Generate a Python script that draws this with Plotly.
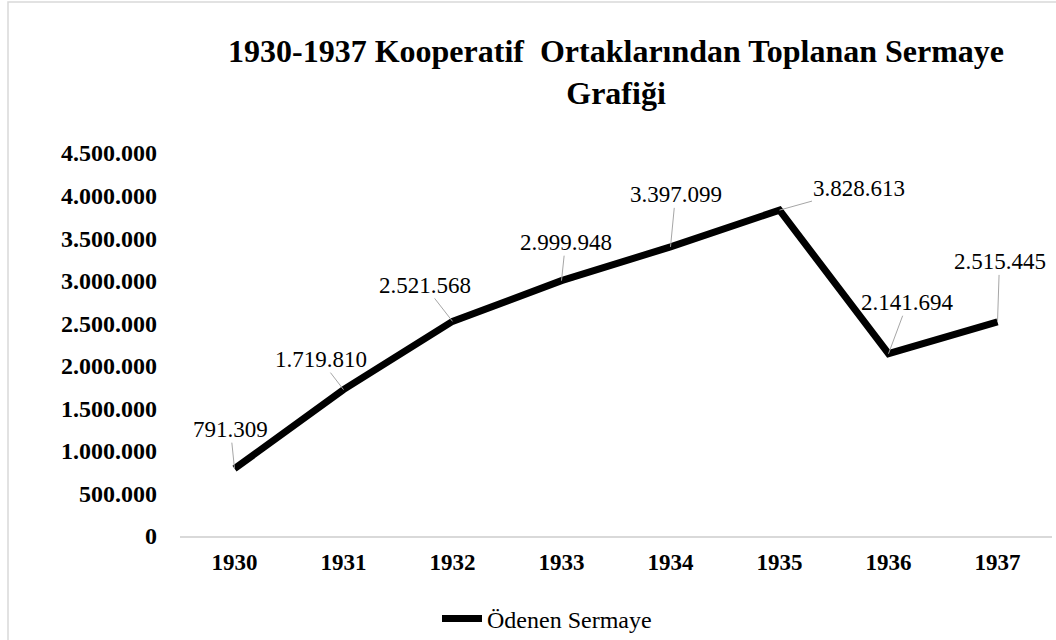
import plotly.graph_objects as go

years = ["1930", "1931", "1932", "1933", "1934", "1935", "1936", "1937"]
sermaye = [791309, 1719810, 2521568, 2999948, 3397099, 3828613, 2141694, 2515445]
y_ticks = [0, 500000, 1000000, 1500000, 2000000, 2500000, 3000000, 3500000, 4000000, 4500000]
series_name = "Ödenen Sermaye"
title_text = "1930-1937 Kooperatif  Ortaklarından Toplanan Sermaye<br>Grafiği"

# label offsets in pixels (text centre relative to point)
label_dx = [-4, -23, -28, 4, 5, 79, 19, 2]
label_dy = [-39, -30, -36, -38, -52, -22, -51, -60]

def fmt(v):
    return f"{v:,}".replace(",", ".")

FONT = "Liberation Serif"
L, R, T, B = 180, 4, 153, 104
PH = 640 - T - B
PW = 1056 - L - R

def py(px):  # pixel y -> paper
    return (640 - B - px) / PH

def pxx(px):  # pixel x -> paper
    return (px - L) / PW

fig = go.Figure()
fig.add_trace(go.Scatter(
    x=years, y=sermaye, mode="lines", name=series_name,
    line=dict(color="black", width=7),
    showlegend=True,
))

annotations = []
for i, (v, dx, dy) in enumerate(zip(sermaye, label_dx, label_dy)):
    annotations.append(dict(
        x=i, y=v, xref="x", yref="y", text=fmt(v),
        showarrow=True, arrowhead=0, arrowwidth=1, arrowcolor="#a6a6a6",
        ax=dx, ay=dy, standoff=0, font=dict(family=FONT, size=23, color="black"),
        borderpad=0,
    ))
annotations.append(dict(
    x=0.5, y=py(72), xref="paper", yref="paper", xanchor="center", yanchor="middle",
    text="<b>" + title_text + "</b>", showarrow=False,
    font=dict(family=FONT, size=32, color="black"),
))

fig.update_layout(
    width=1056, height=640,
    margin=dict(l=L, r=R, t=T, b=B, autoexpand=False),
    paper_bgcolor="white", plot_bgcolor="white",
    separators=",.",
    xaxis=dict(type="category", range=[-0.5, 7.5], showline=True, linecolor="#d9d9d9",
               linewidth=1.5, showgrid=False, zeroline=False, ticks="",
               tickfont=dict(family=FONT, size=23, color="black"),
               tickprefix="<b>", ticksuffix="</b>",
               ticklabelstandoff=5, fixedrange=True, automargin=False),
    yaxis=dict(range=[0, 4500000], tickvals=y_ticks, ticktext=[("<b>" + fmt(t) + "</b>") for t in y_ticks],
               showgrid=False, zeroline=False, showline=False, ticks="",
               tickfont=dict(family=FONT, size=24, color="black"),
               ticklabelstandoff=22, automargin=False),
    legend=dict(orientation="h", x=pxx(547), xanchor="center", y=py(619), yanchor="middle",
                font=dict(family=FONT, size=24, color="black"), itemwidth=40),
    annotations=annotations,
    shapes=[dict(type="rect", xref="paper", yref="paper",
                 x0=pxx(8), x1=pxx(1200),
                 y0=py(800), y1=py(2),
                 line=dict(color="#d9d9d9", width=1.5), fillcolor="rgba(0,0,0,0)", layer="below")],
)

fig.write_html("out.html", config={"displayModeBar": False},
               post_script="document.body.style.margin='0';document.body.style.overflow='hidden';")
